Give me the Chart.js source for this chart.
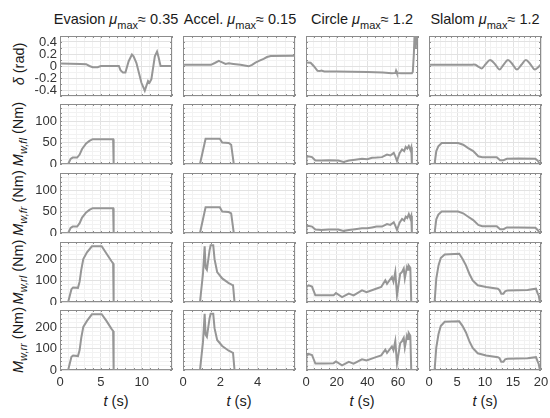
<!DOCTYPE html>
<html>
<head>
<meta charset="UTF-8">
<title>Steering angle and wheel torques</title>

<!-- Chart JS -->
<script src="https://cdn.jsdelivr.net/npm/chart.js@4.4.0/dist/chart.umd.min.js"></script>

<style type="text/css">
	body { margin: 0; background: #fff; font-family: "Liberation Sans", Arial, sans-serif; }
	#fig { position: relative; width: 550px; height: 418px; overflow: hidden; background: #fff; }
	#fig canvas { position: absolute; }
	.lab { position: absolute; white-space: nowrap; color: #1a1a1a; transform: translate(-50%, -50%); }
	.ctitle { font-size: 14.5px; top: 21px; }
	.ctitle sub { font-size: 11px; vertical-align: -5px; }
	.ylab { font-size: 14.5px; left: 19px; transform: translate(-50%, -50%) rotate(-90deg); }
	.ylab sub { font-size: 11px; vertical-align: -4px; }
	.xlab { font-size: 14.5px; top: 401px; }
</style>
</head>
<body>

<div id="fig">
	<div class="lab ctitle" style="left: 116px;">Evasion <i>&mu;</i><sub>max</sub>&asymp; 0.35</div>
	<div class="lab ctitle" style="left: 240px;">Accel. <i>&mu;</i><sub>max</sub>&asymp; 0.15</div>
	<div class="lab ctitle" style="left: 362px;">Circle <i>&mu;</i><sub>max</sub>&asymp; 1.2</div>
	<div class="lab ctitle" style="left: 485px;">Slalom <i>&mu;</i><sub>max</sub>&asymp; 1.2</div>

	<div class="lab ylab" style="top: 64px;"><i>&delta;</i> (rad)</div>
	<div class="lab ylab" style="top: 134px;"><i>M</i><sub><i>w,fl</i></sub> (Nm)</div>
	<div class="lab ylab" style="top: 203px;"><i>M</i><sub><i>w,fr</i></sub> (Nm)</div>
	<div class="lab ylab" style="top: 272px;"><i>M</i><sub><i>w,rl</i></sub> (Nm)</div>
	<div class="lab ylab" style="top: 340px;"><i>M</i><sub><i>w,rr</i></sub> (Nm)</div>

	<div class="lab xlab" style="left: 116px;"><i>t</i> (s)</div>
	<div class="lab xlab" style="left: 239px;"><i>t</i> (s)</div>
	<div class="lab xlab" style="left: 362px;"><i>t</i> (s)</div>
	<div class="lab xlab" style="left: 485px;"><i>t</i> (s)</div>
</div>

<script type="text/javascript">

// ---- data ----

// Evasion
var evasionT_delta = [0, 2.5, 3.2, 3.6, 4.0, 4.6, 5.0, 7.2, 7.4, 7.7, 8.0, 8.4, 8.8, 9.0, 9.35, 9.96, 10.37, 10.77, 10.95, 11.18, 11.6, 11.87, 12.05, 12.3, 13.7];
var evasionDelta   = [0.04, 0.035, 0.03, 0.0, -0.02, -0.02, 0, 0, -0.07, -0.11, -0.11, 0.08, 0.19, 0.16, 0.05, -0.28, -0.41, -0.25, -0.28, -0.22, 0.16, 0.24, 0.15, 0, 0];
var evasionT_front = [0, 1.0, 1.3, 1.55, 2.1, 2.4, 2.7, 3.2, 3.6, 4.0, 6.5, 6.56, 13.7];
var evasionFl      = [0, 0, 12, 15, 15, 22, 35, 48, 54, 58, 58, 0, 0];
var evasionFr      = [0, 0, 12, 15, 15, 23, 36, 48, 54, 58, 58, 0, 0];
var evasionT_rear  = [0, 1.0, 1.4, 1.6, 2.2, 2.4, 2.6, 2.85, 3.3, 3.9, 5.1, 5.7, 6.3, 6.5, 6.56, 13.7];
var evasionRl      = [0, 0, 60, 68, 66, 95, 150, 200, 232, 260, 260, 225, 190, 180, 0, 0];
var evasionRr      = [0, 0, 62, 68, 65, 93, 150, 201, 229, 260, 260, 228, 192, 182, 0, 0];

// Acceleration
var accelT_delta = [0, 1.5, 1.7, 1.92, 2.1, 2.28, 2.45, 2.7, 3.08, 3.3, 3.52, 3.7, 3.88, 4.1, 4.32, 4.5, 4.7, 6.0];
var accelDelta   = [0.02, 0.02, 0.05, 0.085, 0.06, 0.035, 0.045, 0.035, 0.02, 0.01, -0.005, 0.02, 0.057, 0.09, 0.12, 0.15, 0.167, 0.17];
var accelT_front = [0, 0.91, 1.21, 1.97, 2.1, 2.45, 2.58, 2.72, 6];
var accelFl      = [0, 0, 59, 59, 50, 49, 45, 0, 0];
var accelFr      = [0, 0, 60, 60, 50, 49, 46, 0, 0];
var accelT_rear  = [0, 0.91, 1.07, 1.16, 1.21, 1.28, 1.42, 1.48, 1.62, 1.69, 1.83, 2.1, 2.45, 2.63, 2.68, 2.76, 6];
var accelRl      = [0, 0, 132, 260, 160, 150, 240, 265, 265, 200, 140, 110, 88, 80, 78, 0, 0];
var accelRr      = [0, 0, 130, 262, 165, 155, 240, 262, 262, 195, 140, 112, 90, 82, 80, 0, 0];

// Circle
var circleT_delta = [0, 3, 5, 7.5, 9, 10, 12, 20, 30, 40, 50, 56, 58.3, 58.7, 59.2, 62, 69, 69.6, 70.3, 70.8, 71.2, 71.6, 72.0, 72.5, 73];
var circleDelta   = [0.06, 0.055, 0.0, -0.08, -0.085, -0.075, -0.09, -0.09, -0.095, -0.1, -0.11, -0.12, -0.115, -0.08, -0.115, -0.12, -0.12, -0.1, 0.2, 0.55, 0.3, 0.6, 0.35, 0.6, 0.5];
var circleT_front = [0, 0.3, 1.3, 3.9, 6.1, 10, 15, 21, 24.5, 28, 32, 36.5, 40, 43, 46, 49.5, 52.8, 55, 57.2, 58.2, 59.3, 61, 62.6, 64, 65, 66, 67, 68, 68.6, 69, 72.9, 73];
var circleFl      = [0, 16, 18, 16, 8, 8, 9, 8, 5, 8, 10, 12, 11, 14.5, 15, 16, 22, 20, 26, 18, 7, 25, 34, 30, 40, 36, 42, 33, 39, 0, 0, 10];
var circleFr      = [0, 15, 17, 15, 8, 7, 8, 8, 5, 7, 9, 11, 11, 13, 15, 15, 21, 19, 25, 17, 7, 24, 33, 29, 38, 35, 44, 34, 40, 0, 0, 9];
var circleT_rear  = [0, 0.3, 1.7, 3.9, 6.1, 12, 18, 19.5, 23.5, 27.9, 31, 36.5, 39.5, 45.6, 49, 51.7, 52.8, 56, 57, 58.2, 59.3, 61.4, 62.6, 63.7, 64.4, 65.8, 66.5, 67, 68, 68.6, 72.9, 73];
var circleRl      = [0, 70, 78, 72, 31, 31, 31, 42, 23, 39, 31, 54, 46, 62, 70, 101, 85, 117, 95, 140, 31, 132, 140, 156, 110, 163, 150, 170, 160, 0, 0, 39];
var circleRr      = [0, 65, 75, 70, 30, 30, 32, 40, 22, 38, 30, 50, 45, 60, 68, 95, 80, 110, 92, 135, 30, 125, 135, 150, 105, 160, 145, 172, 160, 0, 0, 35];

// Slalom
var slalomT_delta = [0, 7.5, 8.0, 8.3, 8.8, 9.4, 10.1, 10.9, 11.8, 12.6, 13.3, 14.1, 14.9, 15.7, 16.5, 17.3, 18.1, 18.9, 19.5, 20];
var slalomDelta   = [0.02, 0.02, 0.025, 0.02, -0.01, -0.04, 0.03, 0.1, 0.03, -0.06, 0.02, 0.1, 0.03, -0.06, 0.02, 0.1, 0.03, -0.06, -0.02, 0.03];
var slalomT_front = [0, 1.0, 1.3, 1.67, 2.26, 5.2, 6.1, 7.0, 7.9, 8.8, 9.5, 12.1, 12.7, 13.3, 13.9, 16, 19.0, 19.4, 19.8, 20];
var slalomFl      = [0, 0, 30, 41, 49, 49, 45, 37, 30, 18, 16, 16, 9, 9, 12, 13, 12, 8, 0, 0];
var slalomFr      = [0, 0, 32, 43, 50, 50, 46, 38, 30, 19, 16, 16, 9, 9, 13, 13, 12, 7, 0, 0];
var slalomT_rear  = [0, 1.0, 1.3, 1.7, 2.1, 2.8, 5.4, 6.0, 6.6, 7.2, 7.8, 8.7, 10.2, 12.3, 12.6, 12.9, 13.3, 13.6, 14.0, 17.6, 19.1, 19.4, 19.6, 19.8, 20];
var slalomRl      = [0, 0, 109, 171, 205, 222, 225, 201, 171, 132, 101, 78, 70, 62, 55, 39, 39, 50, 54, 56, 62, 40, 30, 0, 0];
var slalomRr      = [0, 0, 105, 168, 205, 225, 227, 205, 175, 135, 103, 78, 68, 60, 55, 38, 38, 50, 52, 55, 60, 40, 28, 0, 0];

// axes: one entry per column (x) or per row (y)
var xMax        = [13.7, 6, 73, 20];
var xMinorStep  = [1, 0.5, 5, 1];
var xTickLabels = [[0, 5, 10], [0, 2, 4], [0, 20, 40, 60], [0, 5, 10, 15, 20]];
var yMin        = [-0.5, 0, 0, 0, 0];
var yMax        = [0.5, 140, 140, 280, 280];
var yMinorStep  = [0.1, 10, 10, 20, 20];
var yTickLabels = [[-0.4, -0.2, 0, 0.2, 0.4], [0, 50, 100], [0, 50, 100], [0, 100, 200], [0, 100, 200]];

var panels = [
	[[evasionT_delta, evasionDelta], [evasionT_front, evasionFl], [evasionT_front, evasionFr], [evasionT_rear, evasionRl], [evasionT_rear, evasionRr]],
	[[accelT_delta, accelDelta], [accelT_front, accelFl], [accelT_front, accelFr], [accelT_rear, accelRl], [accelT_rear, accelRr]],
	[[circleT_delta, circleDelta], [circleT_front, circleFl], [circleT_front, circleFr], [circleT_rear, circleRl], [circleT_rear, circleRr]],
	[[slalomT_delta, slalomDelta], [slalomT_front, slalomFl], [slalomT_front, slalomFr], [slalomT_rear, slalomRl], [slalomT_rear, slalomRr]]
];

// ---- layout ----
var colLeft = [60, 183, 306, 429];
var rowTop = [36, 104, 173, 242, 310];
var boxW = 112, boxH = 60;
var lineColor = '#969696';
var majorGrid = '#e2e2e2', minorGrid = '#f2f2f2';
var tickFont = { family: '"Liberation Sans", Arial, sans-serif', size: 13 };

function isIn(v, list) {
	for (var i = 0; i < list.length; i++) {
		if (Math.abs(v - list[i]) < 1e-6) return true;
	}
	return false;
}

function fmt(v) {
	return String(Math.round(v * 10) / 10);
}

// axes box with small inward ticks, like the matlab figure
var boxPlugin = {
	id: 'box',
	beforeDatasetsDraw: function(chart) {
		var a = chart.chartArea, ctx = chart.ctx;
		var sx = chart.scales.x, sy = chart.scales.y;
		ctx.save();
		ctx.strokeStyle = '#8c8c8c';
		ctx.lineWidth = 1;
		ctx.beginPath();
		sx.ticks.forEach(function(t) {
			var px = Math.round(sx.getPixelForValue(t.value)) + 0.5;
			ctx.moveTo(px, a.bottom); ctx.lineTo(px, a.bottom - 2);
			ctx.moveTo(px, a.top); ctx.lineTo(px, a.top + 2);
		});
		sy.ticks.forEach(function(t) {
			var py = Math.round(sy.getPixelForValue(t.value)) + 0.5;
			ctx.moveTo(a.left, py); ctx.lineTo(a.left + 2, py);
			ctx.moveTo(a.right, py); ctx.lineTo(a.right - 2, py);
		});
		ctx.stroke();
		ctx.strokeRect(Math.round(a.left) + 0.5, Math.round(a.top) + 0.5, Math.round(a.right - a.left) - 1, Math.round(a.bottom - a.top) - 1);
		ctx.restore();
	}
};

function makePanel(r, c, tArr, vArr) {
	var last = r == 4;
	var padL = c == 0 ? 45 : (last ? 10 : 3), padT = 3, padR = last ? 10 : 3, padB = last ? 42 : 3;
	var cv = document.createElement('canvas');
	cv.width = boxW + padL + padR;
	cv.height = boxH + padT + padB;
	cv.style.left = (colLeft[c] - padL) + 'px';
	cv.style.top = (rowTop[r] - padT) + 'px';
	document.getElementById('fig').appendChild(cv);

	var pts = tArr.map(function(t, i) { return { x: t, y: vArr[i] }; });

	new Chart(cv.getContext('2d'), {
		type: 'line',
		data: {
			datasets: [{
				data: pts,
				borderColor: lineColor,
				borderWidth: 2,
				pointRadius: 0,
				tension: 0,
				cubicInterpolationMode: (r == 0 && c == 3) ? 'monotone' : 'default'
			}]
		},
		options: {
			responsive: false,
			animation: false,
			events: [],
			layout: { padding: { left: c == 0 ? 0 : padL, top: padT, right: padR, bottom: last ? 0 : padB } },
			plugins: { legend: { display: false }, tooltip: { enabled: false } },
			scales: {
				x: {
					type: 'linear',
					min: 0,
					max: xMax[c],
					ticks: {
						display: last,
						stepSize: xMinorStep[c],
						autoSkip: false,
						maxRotation: 0,
						padding: 5,
						color: '#333',
						font: tickFont,
						callback: function(v) { return isIn(v, xTickLabels[c]) ? fmt(v) : ''; }
					},
					grid: {
						drawTicks: false,
						color: function(ctx) { return ctx.tick && isIn(ctx.tick.value, xTickLabels[c]) ? majorGrid : minorGrid; }
					},
					border: { display: false },
					afterFit: function(s) {
						s.height = last ? padB : 0;
						s.paddingLeft = 0; s.paddingRight = 0;
					}
				},
				y: {
					type: 'linear',
					min: yMin[r],
					max: yMax[r],
					ticks: {
						display: c == 0,
						stepSize: yMinorStep[r],
						autoSkip: false,
						padding: 3,
						color: '#333',
						font: tickFont,
						callback: function(v) { return isIn(v, yTickLabels[r]) ? fmt(v) : ''; }
					},
					grid: {
						drawTicks: false,
						color: function(ctx) { return ctx.tick && isIn(ctx.tick.value, yTickLabels[r]) ? majorGrid : minorGrid; }
					},
					border: { display: false },
					afterFit: function(s) {
						s.width = c == 0 ? padL : 0;
						s.paddingTop = 0; s.paddingBottom = 0;
					}
				}
			}
		},
		plugins: [boxPlugin]
	});
}

for (var c = 0; c < 4; c++) {
	for (var r = 0; r < 5; r++) {
		makePanel(r, c, panels[c][r][0], panels[c][r][1]);
	}
}

</script>

</body>
</html>
